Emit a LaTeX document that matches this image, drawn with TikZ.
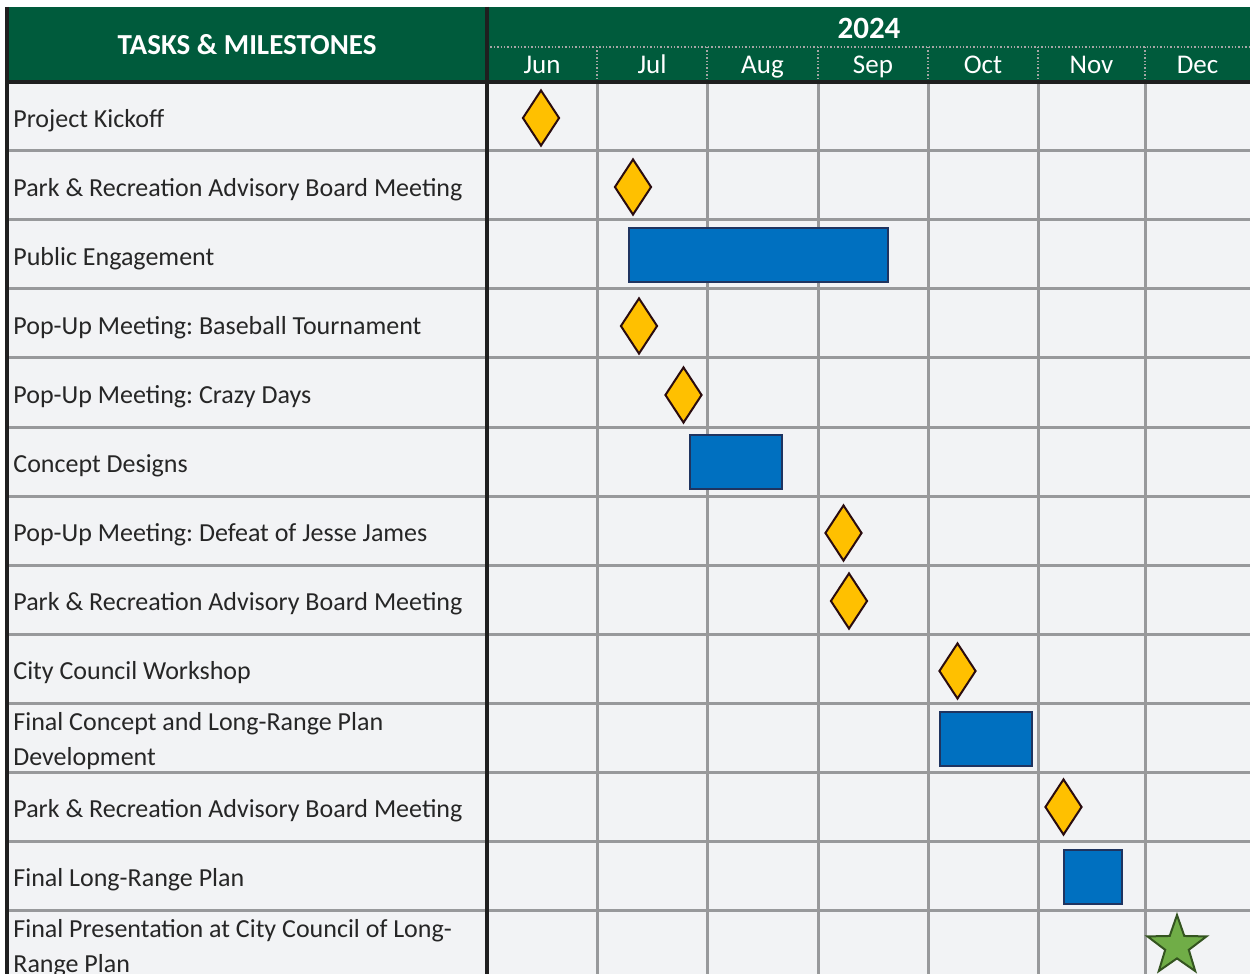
\documentclass[tikz,border=0pt]{standalone}
\usepackage{fontspec}
\setmainfont{Carlito}
\frenchspacing
\usetikzlibrary{shapes.geometric}
\definecolor{hdrgreen}{RGB}{0,91,60}
\definecolor{gridgray}{RGB}{152,153,155}
\definecolor{cellbg}{RGB}{242,243,245}
\definecolor{barblue}{RGB}{0,112,192}
\definecolor{barline}{RGB}{31,52,96}
\definecolor{msgold}{RGB}{255,192,0}
\definecolor{msline}{RGB}{42,12,16}
\definecolor{stargreen}{RGB}{112,173,71}
\definecolor{starline}{RGB}{52,84,32}
\tikzset{
  gridln/.style ={draw=gridgray, line width=1.5pt},
  frameln/.style={draw=black!88, line width=2pt},
  dotln/.style  ={draw=black!35, densely dotted, line width=0.7pt},
  tasklbl/.style={anchor=west, inner sep=0pt, align=left, font=\fontsize{13}{17.5}\selectfont, text=black!85},
  hdrlbl/.style ={inner sep=0pt, text=white, font=\bfseries\fontsize{14.5}{16}\selectfont},
  monlbl/.style ={inner sep=0pt, anchor=base, text=white, font=\fontsize{13.5}{15}\selectfont},
  milest/.style ={diamond, draw=msline, fill=msgold, line width=1pt, inner sep=0pt, minimum width=18.5pt, minimum height=28pt},
  taskbar/.style={draw=barline, fill=barblue, line width=1pt, inner sep=0pt},
  finish/.style ={star, star points=5, star point ratio=2.5, draw=starline, fill=stargreen, line width=1pt, inner sep=0pt, minimum size=31pt},
}

\begin{document}
\begin{tikzpicture}[x=0.5pt, y=-0.5pt]
  \useasboundingbox (0,0) rectangle (1250,974);
  % table body and header
  \fill[cellbg] (7,82) rectangle (1250,974);
  \fill[hdrgreen] (7,7) rectangle (1250,82);
  \foreach \r in {1,...,12} \draw[gridln] (7,82+69*\r) -- (1250,82+69*\r);
  \foreach \vx in {597,707,818,928,1038,1145} {
    \draw[gridln] (\vx,82) -- (\vx,974);
    \draw[dotln] (\vx,47) -- (\vx,82);
  }
  \draw[dotln] (487,47) -- (1250,47);
  \draw[frameln] (7,7) -- (7,974);
  \draw[frameln] (487,7) -- (487,974);
  \draw[frameln] (7,82) -- (1250,82);
  % header texts
  \node[hdrlbl] (hdtask) at (247,45) {TASKS \& MILESTONES};
  \node[hdrlbl, font=\bfseries\fontsize{15.5}{17}\selectfont] (hdyear) at (869,28) {2024};
  \foreach \mn/\mx in {Jun/542,Jul/652,Aug/762.5,Sep/873,Oct/983,Nov/1091.5,Dec/1197.5}
    \node[monlbl] (m\mn) at (\mx,74) {\mn};
  % task names
  \foreach \lbl [count=\i] in {Project Kickoff,
      Park \& Recreation Advisory Board Meeting,
      Public Engagement,
      Pop-Up Meeting: Baseball Tournament,
      Pop-Up Meeting: Crazy Days,
      Concept Designs,
      Pop-Up Meeting: Defeat of Jesse James,
      Park \& Recreation Advisory Board Meeting,
      City Council Workshop,
      {Final Concept and Long-Range Plan\\Development},
      Park \& Recreation Advisory Board Meeting,
      Final Long-Range Plan,
      {Final Presentation at City Council of Long-\\Range Plan}}
    \node[tasklbl] (task\i) at (13,82+69*\i-30.5) {\lbl};
  % bars and milestones
  \foreach \bx/\by/\bw/\bh [count=\k] in {758.5/255.5/129.5/27/, 736/462/46/27, 986/738.5/46/27, 1092.5/876.5/29/27}
    \node[taskbar, minimum width=\bw pt, minimum height=\bh pt] (bar\k) at (\bx,\by) {};
  \foreach \mx/\my [count=\k] in {541/118, 633/187, 639/326, 683.5/395, 843.5/533, 849/601, 957.5/671, 1063.5/807}
    \node[milest] (ms\k) at (\mx,\my) {};
  \node[finish] (final) at (1177,946) {};
\end{tikzpicture}
\end{document}
